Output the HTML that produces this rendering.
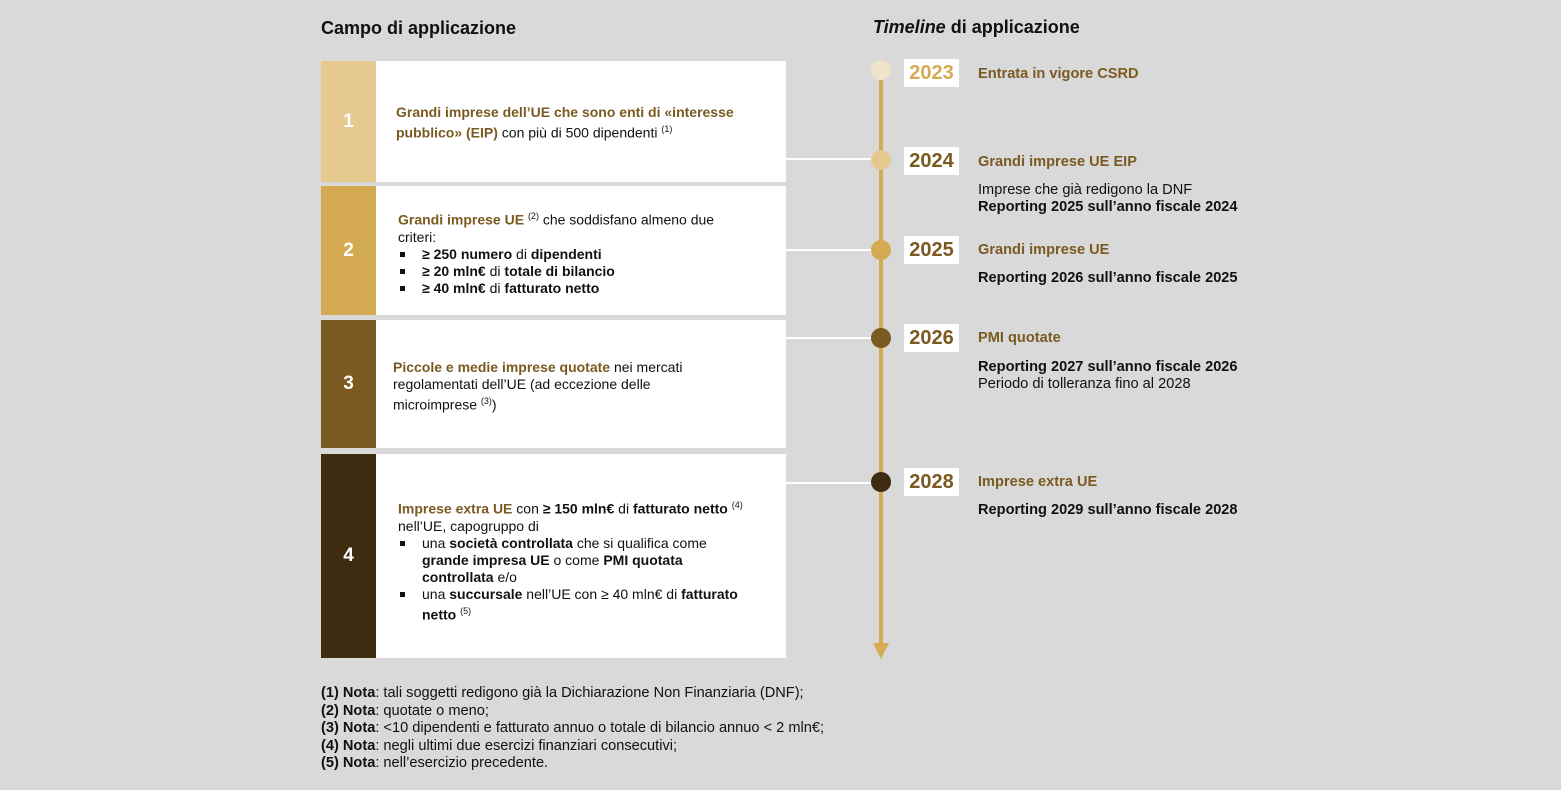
<!DOCTYPE html>
<html><head><meta charset="utf-8"><style>
body{margin:0;width:1561px;height:790px;background:#d9d9d9;font-family:"Liberation Sans",sans-serif;position:relative;overflow:hidden;color:#111}
.a{position:absolute}
.h{font-size:18px;font-weight:bold;color:#111}
.box{position:absolute;left:321px;width:465px;background:#fff}
.strip{position:absolute;left:0;top:0;bottom:0;width:55px;color:#fff;font-weight:bold;font-size:19px;display:flex;align-items:center;justify-content:center}
.txt{position:absolute;left:75px;font-size:14px;line-height:17px;white-space:nowrap}
.g{color:#7a5a20;font-weight:bold}
sup{font-size:9px}
ul{margin:0;padding:0;list-style:none}
li{position:relative;padding-left:24px}
li:before{content:"";position:absolute;left:2px;top:6px;width:5px;height:5px;background:#111}
.conn{position:absolute;left:786px;width:95px;height:2px;background:#fff}
.dot{position:absolute;left:871px;width:20px;height:20px;border-radius:50%}
.yr{position:absolute;left:904px;width:55px;height:28px;background:#fff;font-size:20px;font-weight:bold;text-align:center;line-height:28px}
.t{position:absolute;left:978px;font-size:14.6px;line-height:17px;white-space:nowrap}
.notes{position:absolute;left:321px;top:685px;font-size:14.6px;line-height:17.5px;white-space:nowrap}
</style></head><body>
<div class="a h" style="left:321px;top:18px">Campo di applicazione</div>
<div class="a h" style="left:873px;top:17px"><i>Timeline</i> di applicazione</div>

<div class="box" style="top:61px;height:121px"><div class="strip" style="background:#e5c98f">1</div>
<div class="txt" style="top:43px"><span class="g">Grandi imprese dell’UE che sono enti di «interesse<br>pubblico» (EIP)</span> con più di 500 dipendenti <sup>(1)</sup></div></div>

<div class="box" style="top:186px;height:129px"><div class="strip" style="background:#d4ab52">2</div>
<div class="txt" style="top:22px;left:77px"><span class="g">Grandi imprese UE</span> <sup>(2)</sup> che soddisfano almeno due<br>criteri:
<ul><li><b>≥ 250 numero</b> di <b>dipendenti</b></li><li><b>≥ 20 mln€</b> di <b>totale di bilancio</b></li><li><b>≥ 40 mln€</b> di <b>fatturato netto</b></li></ul></div></div>

<div class="box" style="top:320px;height:128px"><div class="strip" style="background:#7a5a20">3</div>
<div class="txt" style="top:39px;left:72px"><span class="g">Piccole e medie imprese quotate</span> nei mercati<br>regolamentati dell’UE (ad eccezione delle<br>microimprese <sup>(3)</sup>)</div></div>

<div class="box" style="top:454px;height:204px"><div class="strip" style="background:#3d2c10">4</div>
<div class="txt" style="top:43px;left:77px"><span class="g">Imprese extra UE</span> con <b>≥ 150 mln€</b> di <b>fatturato netto</b> <sup>(4)</sup><br>nell’UE, capogruppo di
<ul><li>una <b>società controllata</b> che si qualifica come<br><b>grande impresa UE</b> o come <b>PMI quotata</b><br><b>controllata</b> e/o</li><li>una <b>succursale</b> nell’UE con ≥ 40 mln€ di <b>fatturato</b><br><b>netto</b> <sup>(5)</sup></li></ul></div></div>

<div class="a" style="left:879px;top:70px;width:4px;height:576px;background:#d4ab52"></div>
<div class="a" style="left:873px;top:643px;width:0;height:0;border-left:8px solid transparent;border-right:8px solid transparent;border-top:16px solid #d4ab52"></div>
<div class="conn" style="top:158px"></div><div class="conn" style="top:249px"></div><div class="conn" style="top:337px"></div><div class="conn" style="top:482px"></div>
<div class="dot" style="top:60px;background:#f0e4c8"></div>
<div class="dot" style="top:150px;background:#e5c98f"></div>
<div class="dot" style="top:240px;background:#d4ab52"></div>
<div class="dot" style="top:328px;background:#7a5a20"></div>
<div class="dot" style="top:472px;background:#3d2c10"></div>

<div class="yr" style="top:59px;color:#d4ab52">2023</div>
<div class="yr" style="top:147px;color:#7a5a20">2024</div>
<div class="yr" style="top:236px;color:#7a5a20">2025</div>
<div class="yr" style="top:324px;color:#7a5a20">2026</div>
<div class="yr" style="top:468px;color:#7a5a20">2028</div>

<div class="t g" style="top:66px">Entrata in vigore CSRD</div>
<div class="t g" style="top:154px">Grandi imprese UE EIP</div>
<div class="t" style="top:182px">Imprese che già redigono la DNF<br><b>Reporting 2025 sull’anno fiscale 2024</b></div>
<div class="t g" style="top:242px">Grandi imprese UE</div>
<div class="t" style="top:270px"><b>Reporting 2026 sull’anno fiscale 2025</b></div>
<div class="t g" style="top:330px">PMI quotate</div>
<div class="t" style="top:359px"><b>Reporting 2027 sull’anno fiscale 2026</b><br>Periodo di tolleranza fino al 2028</div>
<div class="t g" style="top:474px">Imprese extra UE</div>
<div class="t" style="top:502px"><b>Reporting 2029 sull’anno fiscale 2028</b></div>

<div class="notes"><b>(1) Nota</b>: tali soggetti redigono già la Dichiarazione Non Finanziaria (DNF);<br><b>(2) Nota</b>: quotate o meno;<br><b>(3) Nota</b>: &lt;10 dipendenti e fatturato annuo o totale di bilancio annuo &lt; 2 mln€;<br><b>(4) Nota</b>: negli ultimi due esercizi finanziari consecutivi;<br><b>(5) Nota</b>: nell’esercizio precedente.</div>
</body></html>
